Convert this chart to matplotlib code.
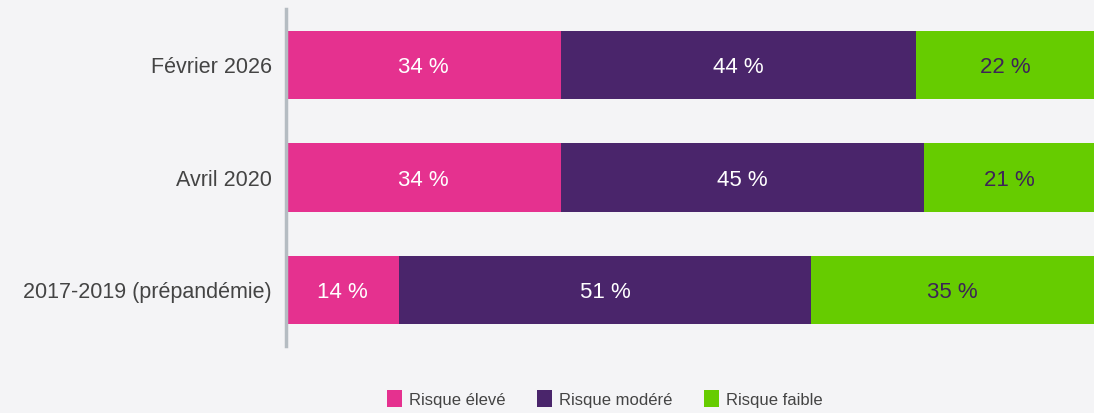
import matplotlib.pyplot as plt
from matplotlib.patches import Patch

plt.rcParams['font.family'] = ['Liberation Sans', 'DejaVu Sans']

# data
periods = ['Février 2026', 'Avril 2020', '2017-2019 (prépandémie)']
risk_levels = ['Risque élevé', 'Risque modéré', 'Risque faible']
high_risk = [34, 34, 14]
moderate_risk = [44, 45, 51]
low_risk = [22, 21, 35]

colors = ['#e5318f', '#4a256b', '#66cc00']
label_colors = ['white', 'white', '#3d2457']
bg = '#f4f4f6'

fig = plt.figure(figsize=(10.94, 4.13), dpi=100, facecolor=bg)
ax = fig.add_axes([286 / 1094, (413 - 346) / 413, 1 - 286 / 1094, 337 / 413])
ax.set_facecolor(bg)

series = [high_risk, moderate_risk, low_risk]
left = [0] * len(periods)
ypos = list(range(len(periods)))
for vals, col, tcol in zip(series, colors, label_colors):
    bars = ax.barh(ypos, vals, left=left, height=0.607, color=col, linewidth=0)
    for b, v in zip(bars, vals):
        ax.text(b.get_x() + b.get_width() / 2, b.get_y() + b.get_height() / 2,
                f'{v} %', ha='center', va='center_baseline', color=tcol, fontsize=16)
    left = [l + v for l, v in zip(left, vals)]

ax.set_xlim(0, 100)
ax.set_ylim(len(periods) - 0.5, -0.5)
ax.set_yticks(ypos)
ax.set_yticklabels(periods, fontsize=15.5, color='#444444', va='center_baseline')
ax.tick_params(axis='y', length=0, pad=10)
ax.set_xticks([])
for s in ['top', 'right', 'bottom']:
    ax.spines[s].set_visible(False)
ax.spines['left'].set_color('#b5bcc2')
ax.spines['left'].set_linewidth(2.5)

handles = [Patch(facecolor=c, label=l) for c, l in zip(colors, risk_levels)]
fig.legend(handles=handles, loc='center', bbox_to_anchor=(0.553, 0.034), ncol=3,
           frameon=False, fontsize=12, labelcolor='#444444', handlelength=0.9,
           handleheight=1.2, handletextpad=0.42, columnspacing=1.9)

fig.savefig('out.png', dpi=100, facecolor=bg)
